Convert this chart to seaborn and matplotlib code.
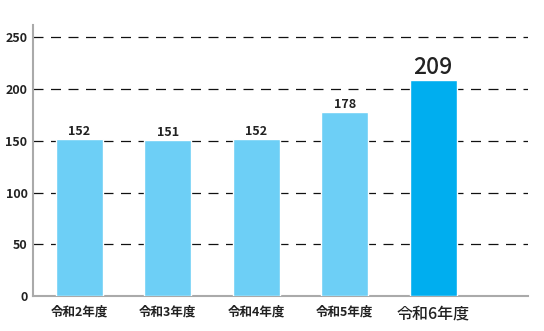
import matplotlib
matplotlib.use("Agg")
import matplotlib.pyplot as plt
import seaborn as sns
import pandas as pd

categories = ["令和2年度", "令和3年度", "令和4年度", "令和5年度", "令和6年度"]
values = [152, 151, 152, 178, 209]
y_ticks = [0, 50, 100, 150, 200, 250]

light_blue = "#6DCFF6"
dark_blue = "#00AEEF"
colors = [light_blue] * 4 + [dark_blue]

sns.set_style("white")
plt.rcParams["font.family"] = ["Noto Sans CJK JP", "DejaVu Sans"]

df = pd.DataFrame({"year": categories, "count": values})

fig = plt.figure(figsize=(5.44, 3.31), dpi=100)
ax = fig.add_axes([0.0607, 0.1057, 0.9099, 0.8188])

sns.barplot(data=df, x="year", y="count", hue="year", palette=colors,
            width=0.53, legend=False, ax=ax, saturation=1, zorder=3)

ax.set_ylim(0, 262)
ax.set_xlim(-0.52, 5.07)
ax.set_yticks(y_ticks)
ax.set_yticklabels([str(t) for t in y_ticks], fontsize=9, fontweight="bold", color="#222222")
ax.set_xlabel("")
ax.set_ylabel("")

# dashed guide lines behind the bars
for t in y_ticks[1:]:
    ax.axhline(t, color="#111111", lw=0.9, ls=(0, (8, 6)), zorder=1)

ax.tick_params(axis="y", length=0, pad=4)
ax.tick_params(axis="x", length=0, pad=7)
ax.set_xticks(range(len(categories)))
labels = ax.set_xticklabels(categories, color="#222222")
for i, lab in enumerate(labels):
    if i == len(categories) - 1:
        lab.set_fontsize(11.5)
        lab.set_fontweight("medium")
    else:
        lab.set_fontsize(9)
        lab.set_fontweight("bold")

for side in ["top", "right"]:
    ax.spines[side].set_visible(False)
for side in ["left", "bottom"]:
    ax.spines[side].set_color("#aaaaaa")
    ax.spines[side].set_linewidth(1.5)

# value labels above each bar
for i, v in enumerate(values):
    last = i == len(values) - 1
    ax.text(i, v + 0.5, str(v), ha="center", va="bottom",
            fontsize=16.5 if last else 9, fontweight="medium" if last else "bold",
            color="#222222", zorder=4)

fig.savefig("out.png", dpi=100)
